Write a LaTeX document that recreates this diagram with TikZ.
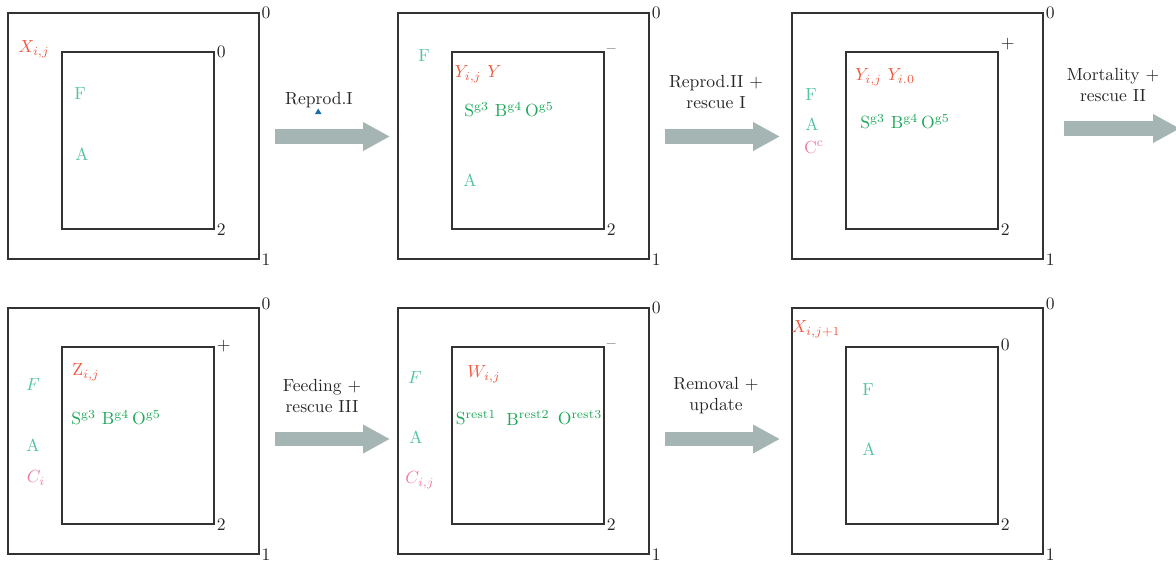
\documentclass[tikz,border=0pt]{standalone}
\usepackage{amssymb,amsmath}
\usepackage{tikz}
\usetikzlibrary{%
  arrows.meta,%
  calc,%
  positioning%
}
\definecolor{popred}{HTML}{F15A40}
\definecolor{popteal}{HTML}{52C3A5}
\definecolor{popgreen}{HTML}{1DA858}
\definecolor{poppink}{HTML}{F07CA5}
\definecolor{flowgray}{HTML}{A5B5B3}
\definecolor{markblue}{HTML}{1A6FA8}
\tikzset{>=latex}
\tikzset{
  outerbox/.style={draw=black!80,line width=0.75pt,minimum width=5.02cm,minimum height=4.92cm,inner sep=0pt},
  innerbox/.style={draw=black!80,line width=0.75pt,minimum width=3.04cm,minimum height=3.54cm,inner sep=0pt},
  corner/.style={anchor=west,inner sep=1pt,text=black!85},
  flow/.style={draw=flowgray,line width=8.5pt,-{Triangle[length=15.3pt 0 0,width=15.3pt 0 0]}},
  steptext/.style={align=center,text=black!85},
  pop/.style={text=popred},
  stage/.style={text=popteal},
  prey/.style={text=popgreen},
  rescued/.style={text=poppink}
}

\begin{document}
\begin{tikzpicture}[x=0.02cm,y=-0.02cm]
    \useasboundingbox (0,0) rectangle (1176,565);
    % top row
    \node[outerbox] (o1) at (133.5,136) {};
    \node[innerbox] (i1) at (138,140.5) {};
    \node[outerbox] (o2) at (523.5,136) {};
    \node[innerbox] (i2) at (528,140.5) {};
    \node[outerbox] (o3) at (917.5,136) {};
    \node[innerbox] (i3) at (922,140.5) {};
    % bottom row
    \node[outerbox] (o4) at (133.5,431) {};
    \node[innerbox] (i4) at (138,435.5) {};
    \node[outerbox] (o5) at (523.5,431) {};
    \node[innerbox] (i5) at (528,435.5) {};
    \node[outerbox] (o6) at (917.5,431) {};
    \node[innerbox] (i6) at (922,435.5) {};

    % corner marks
    \node[corner] (o1t) at (o1.north east) {0};
    \node[corner] (o1b) at (o1.south east) {1};
    \node[corner] (i1t) at (i1.north east) {0};
    \node[corner] (i1b) at (i1.south east) {2};
    \node[corner] (o2t) at (o2.north east) {0};
    \node[corner] (o2b) at (o2.south east) {1};
    \node[corner] (i2t) at (i2.north east) {--};
    \node[corner] (i2b) at (i2.south east) {2};
    \node[corner] (o3t) at (o3.north east) {0};
    \node[corner] (o3b) at (o3.south east) {1};
    \node[corner,yshift=4pt] (i3t) at (i3.north east) {+};
    \node[corner] (i3b) at (i3.south east) {2};
    \node[corner,yshift=2pt] (o4t) at (o4.north east) {0};
    \node[corner] (o4b) at (o4.south east) {1};
    \node[corner] (i4t) at (i4.north east) {+};
    \node[corner] (i4b) at (i4.south east) {2};
    \node[corner] (o5t) at (o5.north east) {0};
    \node[corner] (o5b) at (o5.south east) {1};
    \node[corner] (i5t) at (i5.north east) {--};
    \node[corner] (i5b) at (i5.south east) {2};
    \node[corner,yshift=2pt] (o6t) at (o6.north east) {0};
    \node[corner] (o6b) at (o6.south east) {1};
    \node[corner,yshift=1pt] (i6t) at (i6.north east) {0};
    \node[corner] (i6b) at (i6.south east) {2};

    % panel 1
    \node[pop] (x1) at (34,49) {$X_{i,j}$};
    \node[stage] (f1) at (80,94) {F};
    \node[stage] (a1) at (82,154) {A};
    % panel 2
    \node[stage] (f2) at (424,56) {F};
    \node[pop] (y2) at (478,74) {$Y_{i,j}\ Y$};
    \node[prey] (s2) at (509,110) {S$^{\mathrm{g3}}$\ B$^{\mathrm{g4}}$\,O$^{\mathrm{g5}}$};
    \node[stage] (a2) at (470,180) {A};
    % panel 3
    \node[pop] (y3) at (885,77) {$Y_{i,j}\ Y_{i.0}$};
    \node[prey] (s3) at (905,122) {S$^{\mathrm{g3}}$\ B$^{\mathrm{g4}}$\,O$^{\mathrm{g5}}$};
    \node[stage] (f3) at (811,95) {F};
    \node[stage] (a3) at (812,124) {A};
    \node[rescued] (c3) at (814,147) {C$^{\mathrm{c}}$};
    % panel 4
    \node[pop] (z4) at (86,372) {Z$_{i,j}$};
    \node[stage] (f4) at (33,384) {$F$};
    \node[prey] (s4) at (116,418) {S$^{\mathrm{g3}}$\ B$^{\mathrm{g4}}$\,O$^{\mathrm{g5}}$};
    \node[stage] (a4) at (33,445) {A};
    \node[rescued] (c4) at (36,478) {$C_i$};
    % panel 5
    \node[pop] (w5) at (484,374) {$W_{i,j}$};
    \node[stage] (f5) at (415,377) {$F$};
    \node[prey] (s5) at (476,418) {S$^{\mathrm{rest1}}$};
    \node[prey] (b5) at (528,418) {B$^{\mathrm{rest2}}$};
    \node[prey] (g5) at (580,418) {O$^{\mathrm{rest3}}$};
    \node[stage] (a5) at (416,437) {A};
    \node[rescued] (c5) at (420,480) {$C_{i,j}$};
    % panel 6
    \node[pop] (x6) at (816,329) {$X_{i,j+1}$};
    \node[stage] (f6) at (868,390) {F};
    \node[stage] (a6) at (869,449) {A};

    % steps between panels
    \node[steptext] (t1) at (319,100) {Reprod.I};
    \fill[markblue] (315,114) -- (321.5,114) -- (318.2,108.5) -- cycle;
    \node[steptext] (t2) at (716,92) {Reprod.II +\\rescue I};
    \node[steptext] (t3) at (1113,85) {Mortality +\\rescue II};
    \node[steptext] (t4) at (322,396) {Feeding +\\rescue III};
    \node[steptext] (t5) at (716,396) {Removal +\\update};

    \coordinate (a1s) at (275,136.5);
    \coordinate (a1e) at (390,136.5);
    \coordinate (a2s) at (665,136.5);
    \coordinate (a2e) at (780,136.5);
    \coordinate (a3s) at (1064,128.5);
    \coordinate (a3e) at (1180,128.5);
    \coordinate (a4s) at (275,439);
    \coordinate (a4e) at (390,439);
    \coordinate (a5s) at (665,439);
    \coordinate (a5e) at (780,439);
    \draw[flow] (a1s) -- (a1e);
    \draw[flow] (a2s) -- (a2e);
    \draw[flow] (a3s) -- (a3e);
    \draw[flow] (a4s) -- (a4e);
    \draw[flow] (a5s) -- (a5e);
  \end{tikzpicture}
\end{document}
